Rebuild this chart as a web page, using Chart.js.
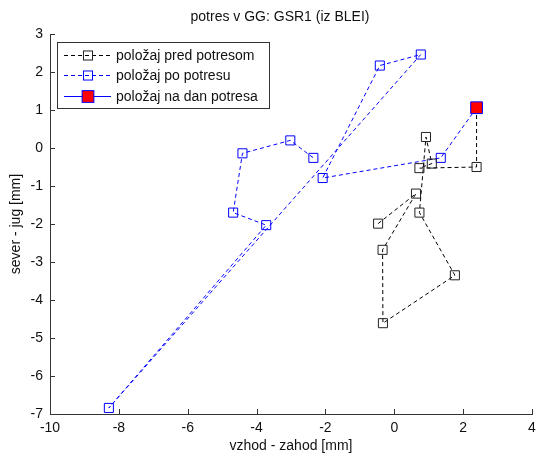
<!DOCTYPE html>
<html>
<head>
<meta charset="utf-8">
<script src="https://cdn.jsdelivr.net/npm/chart.js@4.4.1/dist/chart.umd.min.js"></script>
<style>
html, body { margin: 0; padding: 0; background: #fff; overflow: hidden; }
#wrap { width: 537px; height: 456px; }
</style>
</head>
<body>
<div id="wrap"><canvas id="myChart"></canvas></div>
<script>
// position before the earthquake [mm]
var beforeX = [-0.47, 0.63, -0.34, -0.33, 1.76, 0.73, 0.92, 1.09, 0.73, 2.39, 2.39];
var beforeY = [-1.99, -1.20, -2.68, -4.61, -3.35, -1.70, 0.29, -0.41, -0.53, -0.50, 1.06];
// position after the earthquake [mm]
var afterX = [2.39, 1.35, -2.08, -0.42, 0.77, -8.29, -3.72, -4.68, -4.41, -3.02, -2.35];
var afterY = [1.06, -0.26, -0.79, 2.17, 2.46, -6.84, -2.03, -1.70, -0.14, 0.20, -0.26];
// position on the day of the earthquake
var quakeX = [2.39];
var quakeY = [1.06];

var xTicks = [-10, -8, -6, -4, -2, 0, 2, 4];
var yTicks = [-7, -6, -5, -4, -3, -2, -1, 0, 1, 2, 3];

var FONT = "'Liberation Sans', Arial, sans-serif";

function toPoints(xs, ys) {
    return xs.map(function (x, i) { return { x: x, y: ys[i] }; });
}

// MATLAB style ticks that point into the plot
var innerTicks = {
    id: 'innerTicks',
    afterDraw: function (chart) {
        var ctx = chart.ctx, a = chart.chartArea;
        var sx = chart.scales.x, sy = chart.scales.y;
        ctx.save();
        ctx.strokeStyle = '#333';
        ctx.lineWidth = 1;
        ctx.beginPath();
        sx.ticks.forEach(function (t) {
            var px = Math.round(sx.getPixelForValue(t.value)) + 0.5;
            ctx.moveTo(px, a.bottom);
            ctx.lineTo(px, a.bottom - 5);
        });
        sy.ticks.forEach(function (t) {
            var py = Math.round(sy.getPixelForValue(t.value)) + 0.5;
            ctx.moveTo(a.left, py);
            ctx.lineTo(a.left + 5, py);
        });
        ctx.stroke();
        ctx.restore();
    }
};

// legend box with line + marker samples
var lineLegend = {
    id: 'lineLegend',
    afterDatasetsDraw: function (chart) {
        var ctx = chart.ctx, a = chart.chartArea;
        var x0 = a.left + 7, y0 = a.top + 8, w = 212, h = 66;
        ctx.save();
        ctx.fillStyle = '#fff';
        ctx.fillRect(x0, y0, w, h);
        ctx.strokeStyle = '#333';
        ctx.lineWidth = 1;
        ctx.strokeRect(x0 + 0.5, y0 + 0.5, w, h);
        ctx.font = '14px ' + FONT;
        ctx.textBaseline = 'middle';
        chart.data.datasets.forEach(function (ds, i) {
            var y = Math.round(y0 + 12.5 + i * 20.5) + 0.5;
            ctx.strokeStyle = ds.borderColor;
            ctx.setLineDash(ds.borderDash || []);
            ctx.beginPath();
            ctx.moveTo(x0 + 7, y);
            ctx.lineTo(x0 + 54, y);
            ctx.stroke();
            ctx.setLineDash([]);
            var s = ds.pointRadius * Math.SQRT1_2;
            var cx = x0 + 31;
            if (ds.pointBackgroundColor !== 'transparent') {
                ctx.fillStyle = ds.pointBackgroundColor;
                ctx.fillRect(cx - s, y - s, 2 * s, 2 * s);
            }
            ctx.strokeStyle = ds.pointBorderColor;
            ctx.strokeRect(cx - s, y - s, 2 * s, 2 * s);
            ctx.fillStyle = '#111';
            ctx.fillText(ds.label, x0 + 59, y + 1);
        });
        ctx.restore();
    }
};

var ctx = document.getElementById('myChart').getContext('2d');

var myChart = new Chart(ctx, {
    type: 'scatter',
    data: {
        datasets: [{
            label: 'položaj pred potresom',
            data: toPoints(beforeX, beforeY),
            showLine: true,
            borderColor: '#000',
            borderWidth: 1,
            borderDash: [4, 3],
            pointStyle: 'rect',
            pointRadius: 6.4,
            pointBorderColor: '#222',
            pointBackgroundColor: 'transparent',
            pointBorderWidth: 1,
            order: 1
        }, {
            label: 'položaj po potresu',
            data: toPoints(afterX, afterY),
            showLine: true,
            borderColor: '#0000ff',
            borderWidth: 1,
            borderDash: [4, 3],
            pointStyle: 'rect',
            pointRadius: 6.4,
            pointBorderColor: '#0000ff',
            pointBackgroundColor: 'transparent',
            pointBorderWidth: 1,
            order: 2
        }, {
            label: 'položaj na dan potresa',
            data: toPoints(quakeX, quakeY),
            showLine: false,
            borderColor: '#0000ff',
            borderWidth: 1,
            pointStyle: 'rect',
            pointRadius: 8.3,
            pointBorderColor: '#0000ff',
            pointBackgroundColor: '#ff0000',
            pointBorderWidth: 1,
            order: 0
        }]
    },
    options: {
        responsive: true,
        maintainAspectRatio: false,
        animation: false,
        layout: { autoPadding: false, padding: { left: 28, right: 5, top: 0, bottom: 0 } },
        plugins: {
            legend: { display: false },
            tooltip: { enabled: false },
            title: {
                display: true,
                text: 'potres v GG: GSR1 (iz BLEI)',
                color: '#111',
                font: { family: FONT, size: 14, weight: 'normal' },
                padding: { top: 8.6, bottom: 8.6 }
            }
        },
        scales: {
            x: {
                type: 'linear',
                min: xTicks[0],
                max: xTicks[xTicks.length - 1],
                afterBuildTicks: function (scale) {
                    scale.ticks = xTicks.map(function (v) { return { value: v }; });
                },
                afterFit: function (scale) {
                    scale.height = 42;
                    scale.paddingRight = 0;
                },
                grid: { display: true, drawOnChartArea: false, drawTicks: true, tickLength: 5, tickColor: 'transparent' },
                border: { display: true, color: '#333', width: 1 },
                ticks: {
                    color: '#111',
                    font: { family: FONT, size: 14 },
                    padding: 1,
                    maxRotation: 0
                },
                title: {
                    display: true,
                    text: 'vzhod - zahod [mm]',
                    color: '#111',
                    font: { family: FONT, size: 14 },
                    padding: { top: 0, bottom: 1 }
                }
            },
            y: {
                type: 'linear',
                min: yTicks[0],
                max: yTicks[yTicks.length - 1],
                afterBuildTicks: function (scale) {
                    scale.ticks = yTicks.map(function (v) { return { value: v }; });
                },
                afterFit: function (scale) {
                    scale.width = 22;
                },
                grid: { display: true, drawOnChartArea: false, drawTicks: true, tickLength: 5, tickColor: 'transparent' },
                border: { display: true, color: '#333', width: 1 },
                ticks: {
                    color: '#111',
                    font: { family: FONT, size: 14 },
                    padding: 2
                },
                title: {
                    display: true,
                    text: 'sever - jug [mm]',
                    color: '#111',
                    font: { family: FONT, size: 14 },
                    padding: { top: -20.4, bottom: 0 }
                }
            }
        }
    },
    plugins: [innerTicks, lineLegend]
});
</script>
</body>
</html>
